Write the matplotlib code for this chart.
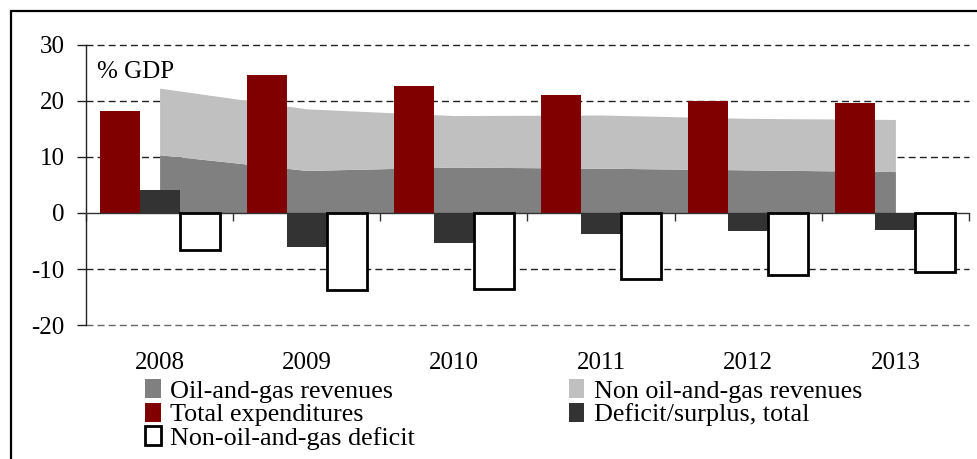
import matplotlib
matplotlib.use("Agg")
import matplotlib.pyplot as plt
import numpy as np
from matplotlib.patches import Patch, Rectangle

plt.rcParams['font.family'] = ['Liberation Serif', 'DejaVu Serif']

years = ['2008', '2009', '2010', '2011', '2012', '2013']
oil_gas_rev = [10.4, 7.6, 8.2, 8.0, 7.7, 7.4]
non_oil_rev = [11.9, 11.0, 9.2, 9.5, 9.2, 9.3]
total_exp = [18.2, 24.6, 22.7, 21.1, 20.0, 19.6]
deficit_total = [4.1, -6.0, -5.4, -3.7, -3.15, -3.0]
non_oil_deficit = [-6.6, -13.75, -13.6, -11.8, -11.1, -10.5]
yticks = [-20, -10, 0, 10, 20, 30]

FS = 18
LFS = 18.8
fig = plt.figure(figsize=(9.78, 4.59), dpi=100)
ax = fig.add_axes([86/978, 1-325/459, (969-86)/978, (325-45)/459])

x = np.arange(len(years))
oil = np.array(oil_gas_rev)
tot = oil + np.array(non_oil_rev)

# grid
for v in yticks:
    if v != 0:
        col = '#666666' if v == -20 else '#222222'
        ax.axhline(v, color=col, lw=1.0, dashes=(5, 3), zorder=0, clip_on=False)

ax.fill_between(x, 0, oil, color='#808080', lw=0, zorder=1)
ax.fill_between(x, oil, tot, color='#c0c0c0', lw=0, zorder=1)

w = 0.272
ax.bar(x - w, total_exp, width=w, color='#800000', lw=0, zorder=2)
ax.bar(x, deficit_total, width=w, color='#333333', lw=0, zorder=2)
ax.bar(x + w, non_oil_deficit, width=w, facecolor='white', edgecolor='black', lw=2.0, zorder=3)

ax.set_xlim(-0.5, len(years) - 0.5)
ax.set_ylim(-20, 30)

for s in ['top', 'right']:
    ax.spines[s].set_visible(False)
ax.spines['bottom'].set_position(('data', 0))
ax.spines['bottom'].set_color('#333333')
ax.spines['bottom'].set_linewidth(1.0)
ax.spines['bottom'].set_zorder(2.5)
ax.spines['left'].set_color('#222222')
ax.spines['left'].set_linewidth(1.0)

ax.set_yticks(yticks)
ax.set_yticklabels([str(v) for v in yticks], fontsize=FS)
ax.tick_params(axis='y', direction='out', length=6.5, width=1, pad=9, color='#222222')

ax.set_xticks(x)
ax.set_xticklabels(years, fontsize=FS)
ax.set_xticks(np.arange(-0.5, len(years)), minor=True)
ax.tick_params(axis='x', which='major', length=0, pad=100)
ax.tick_params(axis='x', which='minor', direction='out', length=6, width=1, color='#333333')

ax.text(0.0125, 0.905, '% GDP', transform=ax.transAxes, fontsize=FS, ha='left', va='center')

handles = [
    Patch(facecolor='#808080', edgecolor='none', label='Oil-and-gas revenues'),
    Patch(facecolor='#800000', edgecolor='none', label='Total expenditures'),
    Patch(facecolor='white', edgecolor='black', lw=2.0, label='Non-oil-and-gas deficit'),
    Patch(facecolor='#c0c0c0', edgecolor='none', label='Non oil-and-gas revenues'),
    Patch(facecolor='#333333', edgecolor='none', label='Deficit/surplus, total'),
]
fig.legend(handles=handles, loc='upper left', bbox_to_anchor=(145/978, 1-379/459),
           ncol=2, frameon=False, fontsize=LFS, handlelength=0.6, handleheight=0.75,
           handletextpad=0.35, labelspacing=0.0, columnspacing=5.9,
           borderpad=0, borderaxespad=0)

# outer frame
fig.patches.append(Rectangle((10.5/978, -0.1), 1.2, 1 - 11/459 + 0.1, transform=fig.transFigure,
                             fill=False, edgecolor='black', lw=1.6, zorder=10))

fig.savefig('out.png', dpi=100)
